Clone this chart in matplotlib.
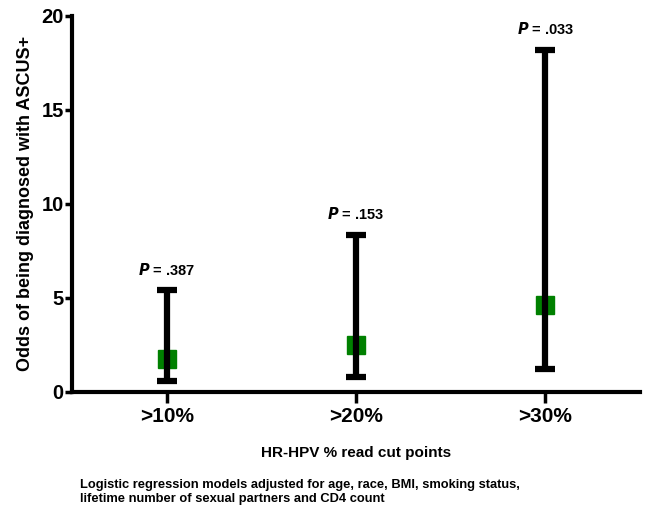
import numpy as np
import matplotlib.pyplot as plt

plt.rcParams['font.family'] = ['Liberation Sans', 'DejaVu Sans']
plt.rcParams['font.weight'] = 'bold'

categories = ['>10%', '>20%', '>30%']
odds = [1.75, 2.5, 4.6]
lower = [0.58, 0.79, 1.2]
upper = [5.4, 8.35, 18.2]
pvals = ['.387', '.153', '.033']

x = np.arange(1, len(categories) + 1)
odds = np.array(odds)
err = [odds - np.array(lower), np.array(upper) - odds]

fig = plt.figure(figsize=(6.49, 5.13), dpi=100)
ax = fig.add_axes([0.111, 0.236, 0.875, 0.733])

ax.errorbar(x, odds, yerr=err, fmt='none', ecolor='black', elinewidth=4.5,
            capsize=7, capthick=4.5, zorder=2)
ax.plot(x, odds, 's', color='#008000', markersize=13, zorder=1)

for xi, up, p in zip(x, upper, pvals):
    ax.annotate(r'$\bf\it{P}$' + ' = ' + p, (xi, up), xytext=(0, 9),
                textcoords='offset points', ha='center', va='bottom',
                fontsize=10.5, fontweight='bold')

ax.set_xlim(0.5, 3.5)
ax.set_ylim(0, 20)
ax.set_yticks([0, 5, 10, 15, 20])
ax.set_xticks(x)
ax.set_xticklabels(categories)

for s in ['top', 'right']:
    ax.spines[s].set_visible(False)
ax.spines['left'].set_linewidth(3)
ax.spines['bottom'].set_linewidth(3)
ax.tick_params(axis='y', width=2.5, length=5, labelsize=14.5, pad=1)
ax.tick_params(axis='x', width=2.5, length=8, labelsize=15, pad=3)

ax.set_ylabel('Odds of being diagnosed with ASCUS+', fontsize=13, fontweight='bold', labelpad=5)
ax.set_xlabel('HR-HPV % read cut points', fontsize=11, fontweight='bold', labelpad=14)

fig.text(0.124, 0.015, 'Logistic regression models adjusted for age, race, BMI, smoking status,\n'
         'lifetime number of sexual partners and CD4 count',
         fontsize=9.3, fontweight='bold', ha='left', va='bottom', linespacing=1.25)

fig.savefig('out.png', dpi=100)
